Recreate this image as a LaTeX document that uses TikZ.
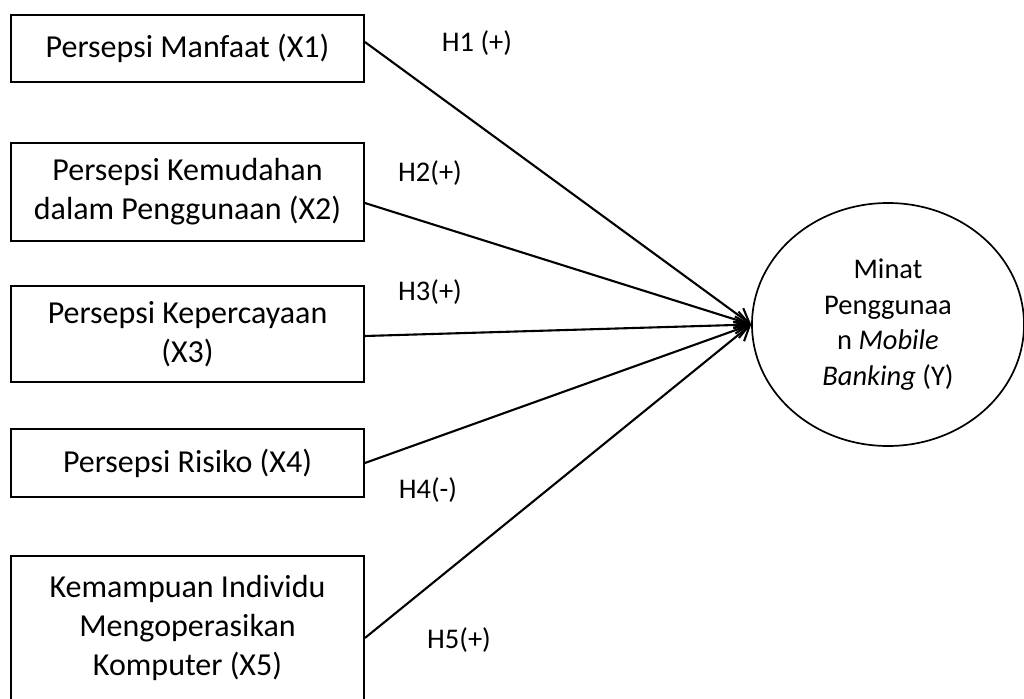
\documentclass[tikz,border=0pt]{standalone}
\usepackage{fontspec}
\setmainfont{Carlito}
\usetikzlibrary{shapes.geometric,arrows.meta}
\begin{document}
\begin{tikzpicture}[x=1pt,y=-1pt,
  varbox/.style={draw, line width=1.8pt, rectangle, inner sep=0pt, align=center,
    minimum width=353pt, font=\fontsize{32}{39}\selectfont},
  target/.style={draw, ellipse, line width=1.7pt, inner sep=0pt, align=center,
    minimum width=272pt, minimum height=243pt, font=\fontsize{28.5}{35.5}\selectfont},
  hyp/.style={font=\fontsize{28.5}{34}\selectfont, inner sep=0pt},
  link/.style={line width=2.1pt, -{Straight Barb[length=14pt,width=17pt,line width=2.1pt]}}]
\useasboundingbox (0,0) rectangle (1024,698);
\fill[white] (0,0) rectangle (1024,698);
\node[varbox, minimum height=67pt] (x1) at (187.5,48.5) {Persepsi Manfaat (X1)};
\node[varbox, minimum height=98pt] (x2) at (187.5,192) {Persepsi Kemudahan\\dalam Penggunaan (X2)};
\node[varbox, minimum height=96pt] (x3) at (187.5,334) {Persepsi Kepercayaan\\(X3)};
\node[varbox, minimum height=68pt] (x4) at (187.5,463) {Persepsi Risiko (X4)};
\node[varbox, minimum height=144pt] (x5) at (187.5,628) {Kemampuan Individu\\Mengoperasikan\\Komputer (X5)};
\node[target] (y) at (888,324.5) {Minat\\Penggunaa\\n \textit{Mobile}\\\textit{Banking} (Y)};
\draw[link] ([yshift=6.5pt]x1.east) -- (y.west);
\draw[link] ([yshift=-11pt]x2.east) -- (y.west);
\draw[link] ([yshift=-2pt]x3.east) -- (y.west);
\draw[link] (x4.east) -- (y.west);
\draw[link] ([yshift=-10pt]x5.east) -- (y.west);
\node[hyp] (h1) at (477,43) {H1 (+)};
\node[hyp] (h2) at (430,173) {H2(+)};
\node[hyp] (h3) at (430,292) {H3(+)};
\node[hyp] (h4) at (428,490) {H4(-)};
\node[hyp] (h5) at (459,640) {H5(+)};
\end{tikzpicture}
\end{document}
